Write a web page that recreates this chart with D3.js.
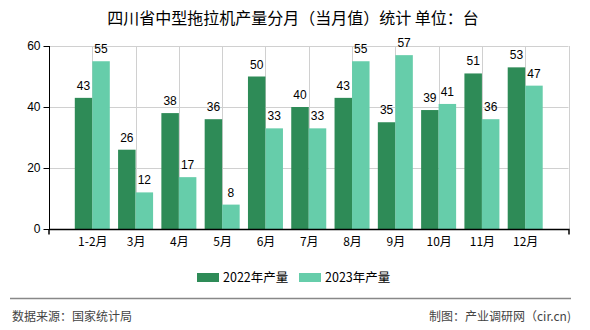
<!DOCTYPE html>
<html><head><meta charset="utf-8">
<script src="https://cdn.jsdelivr.net/npm/d3@7"></script>
<style>body{margin:0;background:#fff;}svg{display:block;font-family:"Liberation Sans","Noto Sans CJK SC",sans-serif;}</style>
</head><body><svg id="c" width="590" height="330"></svg>
<script>
const categories = ["1-2月","3月","4月","5月","6月","7月","8月","9月","10月","11月","12月"];
const series2022 = [43,26,38,36,50,40,43,35,39,51,53];
const series2023 = [55,12,17,8,33,33,55,57,41,36,47];
const seriesNames = ["2022年产量","2023年产量"];
const colors = ["#2e8b57","#66cdaa"];
const yTicks = [0,20,40,60];

const svg = d3.select("#c");
const L=49, R=568.5, T=46, B=229;
const x = d3.scalePoint().domain(categories).range([L,R]).padding(1);
const y = d3.scaleLinear().domain([0,60]).range([B,T]);
const bw = 17.5;

svg.append("text").attr("x",293).attr("y",24).attr("text-anchor","middle")
  .attr("font-family","'Noto Sans CJK SC',sans-serif").attr("font-size",16).attr("fill","#000")
  .text("四川省中型拖拉机产量分月（当月值）统计 单位：台");

const g = svg.append("g");
g.selectAll(".hg").data(yTicks.filter(d=>d>0)).enter().append("line")
  .attr("x1",L).attr("x2",R).attr("y1",d=>Math.round(y(d))+0.5).attr("y2",d=>Math.round(y(d))+0.5)
  .attr("stroke","#d0d0d0").attr("stroke-width",1);
g.selectAll(".vg").data(categories).enter().append("line")
  .attr("x1",d=>Math.round(x(d))+0.5).attr("x2",d=>Math.round(x(d))+0.5).attr("y1",T).attr("y2",B)
  .attr("stroke","#d0d0d0").attr("stroke-width",1);
g.append("line").attr("x1",Math.round(R)+0.5).attr("x2",Math.round(R)+0.5).attr("y1",T).attr("y2",B)
  .attr("stroke","#d0d0d0");

const data = categories.map((c,i)=>({c, v:[series2022[i],series2023[i]]}));
[0,1].forEach(s=>{
  g.selectAll(".b"+s).data(data).enter().append("rect")
    .attr("x",d=> s===0 ? x(d.c)-bw : x(d.c))
    .attr("width",bw)
    .attr("y",d=>y(d.v[s])).attr("height",d=>B-y(d.v[s]))
    .attr("fill",colors[s]);
  g.selectAll(".l"+s).data(data).enter().append("text")
    .attr("x",d=> s===0 ? x(d.c)-bw/2 : x(d.c)+bw/2)
    .attr("y",d=>y(d.v[s])-8)
    .attr("text-anchor","middle").attr("font-size",12).attr("fill","#000")
    .text(d=>d.v[s]);
});

const ya = svg.append("g").attr("transform",`translate(${L+0.5},0)`)
  .call(d3.axisLeft(y).tickValues(yTicks).tickSize(6).tickPadding(3));
ya.select(".domain").attr("stroke","#000").attr("d",`M0,${T}V${B}`);
ya.selectAll("text").attr("font-size",12).attr("fill","#000").attr("font-family","'Liberation Sans',sans-serif");

const xa = svg.append("g").attr("transform",`translate(0,${B+0.5})`)
  .call(d3.axisBottom(x).tickSize(0).tickPadding(8));
xa.select(".domain").attr("stroke","#000").attr("stroke-width",1.5).attr("d",`M${L},0V5M${L},0H${R+0.5}V5`).attr("fill","none");
xa.selectAll("text").attr("font-size",12).attr("fill","#000").attr("font-family","'Noto Sans CJK SC',sans-serif");

const lg = svg.append("g");
const lx = [197, 299];
seriesNames.forEach((n,i)=>{
  lg.append("rect").attr("x",lx[i]).attr("y",273).attr("width",22).attr("height",9).attr("fill",colors[i]);
  lg.append("text").attr("x",lx[i]+26).attr("y",282).attr("font-size",12.5)
    .attr("font-family","'Noto Sans CJK SC',sans-serif").attr("fill","#000").text(n);
});

svg.append("line").attr("x1",10).attr("x2",571).attr("y1",298.5).attr("y2",298.5).attr("stroke","#888").attr("stroke-width",1.5);
svg.append("text").attr("x",12).attr("y",321).attr("font-size",12).attr("fill","#444")
  .attr("font-family","'Noto Sans CJK SC',sans-serif").text("数据来源：国家统计局");
svg.append("text").attr("x",571).attr("y",321).attr("text-anchor","end").attr("font-size",12).attr("fill","#444")
  .attr("font-family","'Noto Sans CJK SC',sans-serif").text("制图：产业调研网（cir.cn)");
</script></body></html>
